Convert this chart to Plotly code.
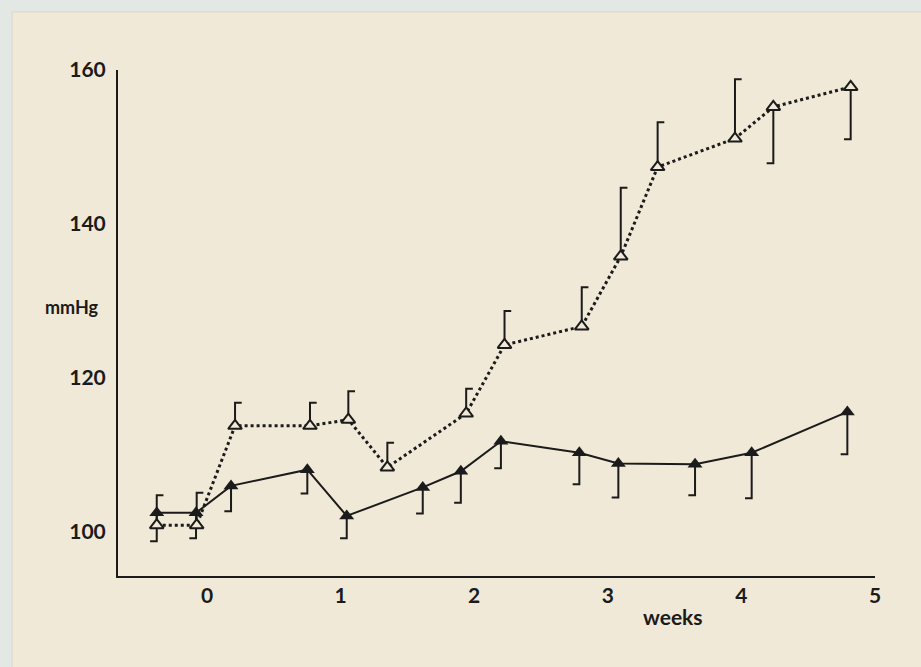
import plotly.graph_objects as go

# Weeks and mean pressures (mmHg) for the two groups
weeks_open = [-0.376, -0.077, 0.21, 0.771, 1.058, 1.35, 1.94, 2.227, 2.805, 3.097, 3.373, 3.952, 4.239, 4.818]
mmhg_open = [100.9, 100.9, 113.8, 113.8, 114.6, 108.4, 115.4, 124.3, 126.7, 135.8, 147.4, 151.1, 155.2, 157.8]
err_open_up = [3.9, 4.2, 3.0, 3.0, 3.7, 3.2, 3.2, 4.4, 5.1, 8.9, 5.8, 7.7, 0.0, 0.0]
err_open_down = [0, 0, 0, 0, 0, 0, 0, 0, 0, 0, 0, 0, 7.3, 6.8]

weeks_filled = [-0.376, -0.082, 0.18, 0.751, 1.046, 1.615, 1.90, 2.20, 2.787, 3.079, 3.653, 4.077, 4.793]
mmhg_filled = [102.5, 102.5, 106.0, 108.1, 102.1, 105.8, 107.9, 111.8, 110.3, 108.9, 108.8, 110.3, 115.6]
err_filled_down = [3.7, 3.3, 3.3, 3.1, 2.9, 3.4, 4.1, 3.5, 4.1, 4.4, 4.0, 5.9, 5.5]

x_ticks = [0, 1, 2, 3, 4, 5]
y_ticks = [100, 120, 140, 160]

INK = "#1b1b1b"
CARD = "#F0E9D7"
CAP = 0.05  # bracket cap width in weeks


def brackets(xs, ys, ups, downs):
    """Half error bars: '[' above a point, ']' below it."""
    bx, by = [], []
    for x, y, u, d in zip(xs, ys, ups, downs):
        if u > 0:
            bx += [x, x, x + CAP, None]
            by += [y, y + u, y + u, None]
        if d > 0:
            bx += [x, x, x - CAP, None]
            by += [y, y - d, y - d, None]
    return bx, by


fig = go.Figure()

ox, oy = brackets(weeks_open, mmhg_open, err_open_up, err_open_down)
fig.add_trace(go.Scatter(x=ox, y=oy, mode="lines", line=dict(color=INK, width=2),
                         hoverinfo="skip", showlegend=False))

fx, fy = brackets(weeks_filled, mmhg_filled, [0] * len(weeks_filled), err_filled_down)
fig.add_trace(go.Scatter(x=fx, y=fy, mode="lines", line=dict(color=INK, width=2),
                         hoverinfo="skip", showlegend=False))

fig.add_trace(go.Scatter(
    x=weeks_filled, y=mmhg_filled, mode="lines+markers",
    line=dict(color=INK, width=2),
    marker=dict(symbol="triangle-up", size=13, color=INK),
    showlegend=False))

fig.add_trace(go.Scatter(
    x=weeks_open, y=mmhg_open, mode="lines+markers",
    line=dict(color=INK, width=3, dash="dot"),
    marker=dict(symbol="triangle-up", size=12, color=CARD,
                line=dict(color=INK, width=2)),
    showlegend=False))

# Card the chart is printed on
fig.add_shape(type="rect", xref="paper", yref="paper",
              x0=-0.14, x1=1.1, y0=-0.2, y1=1.115,
              fillcolor=CARD, line=dict(color="#d9d6cc", width=1), layer="below")

fig.add_annotation(text="<b>mmHg</b>", xref="paper", yref="y", x=-0.061, y=129.2,
                   showarrow=False, font=dict(size=18, color=INK, family="Lato"),
                   xanchor="center", yanchor="middle")
fig.add_annotation(text="<b>weeks</b>", xref="x", yref="paper", x=3.49, y=-0.081,
                   showarrow=False, font=dict(size=21, color=INK, family="Lato"),
                   xanchor="center", yanchor="middle")

fig.update_layout(
    width=921, height=667,
    margin=dict(l=118, r=46, t=70, b=91),
    paper_bgcolor="#E4E8E5",
    plot_bgcolor="rgba(0,0,0,0)",
    font=dict(family="Lato", size=21, color=INK, weight="bold"),
    xaxis=dict(range=[-0.666, 5.0], tickvals=x_ticks, ticktext=[str(v) for v in x_ticks],
               showgrid=False, zeroline=False, showline=True, linecolor=INK, linewidth=2,
               ticks="", ticklabelstandoff=0),
    yaxis=dict(range=[94.3, 160], tickvals=y_ticks, ticktext=[str(v) for v in y_ticks],
               showgrid=False, zeroline=False, showline=True, linecolor=INK, linewidth=2,
               ticks="", ticklabelstandoff=6),
)

fig.write_html("out.html")
